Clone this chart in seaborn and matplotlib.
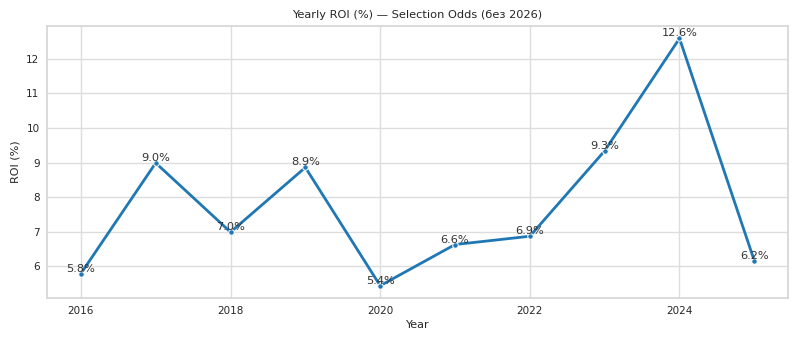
import matplotlib
matplotlib.use("Agg")
import matplotlib.pyplot as plt
import seaborn as sns
import pandas as pd

years = [2016, 2017, 2018, 2019, 2020, 2021, 2022, 2023, 2024, 2025]
roi = [5.79, 8.99, 6.99, 8.86, 5.44, 6.63, 6.87, 9.34, 12.59, 6.16]

df = pd.DataFrame({"Year": years, "ROI": roi})

sns.set_theme(style="whitegrid",
              rc={"grid.color": "#dddddd", "axes.edgecolor": "#d6d6d6"})
fig, ax = plt.subplots(figsize=(8, 3.43), dpi=100)
sns.lineplot(data=df, x="Year", y="ROI", marker="o", markersize=4,
             linewidth=2, color="#1f77b4", ax=ax)

for x, y in zip(years, roi):
    ax.text(x, y, f"{y:.1f}%", ha="center", va="bottom", fontsize=8.2, color="#333333")

ax.set_title("Yearly ROI (%) — Selection Odds (без 2026)", fontsize=8.2)
ax.set_xlabel("Year", fontsize=8, labelpad=3)
ax.set_ylabel("ROI (%)", fontsize=8, labelpad=4)
ax.tick_params(labelsize=7.5, length=0, pad=5.5)
fig.subplots_adjust(left=0.059, right=0.985, top=0.924, bottom=0.131)
fig.savefig("out.png", dpi=100)
